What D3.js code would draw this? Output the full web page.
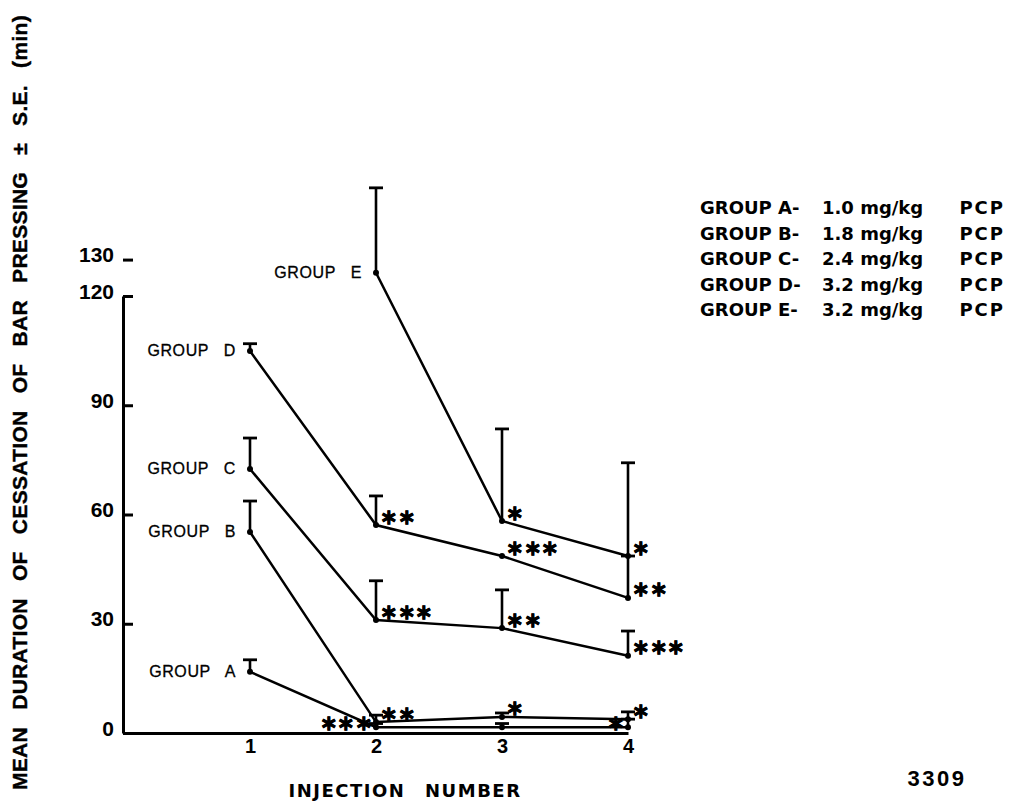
<!DOCTYPE html>
<html>
<head>
<meta charset="utf-8">
<script src="https://cdn.jsdelivr.net/npm/d3@7"></script>
<style>
  body { margin: 0; background: #fff; }
  text { font-family: 'Liberation Sans', Arial, sans-serif; fill: #000; }
</style>
</head>
<body>
<svg id="chart" width="1016" height="803"></svg>
<script>
// values (min), S.E. as distance above the mean
const injections = [1, 2, 3, 4]
const groups = ['A', 'B', 'C', 'D', 'E']
const doses = ['1.0', '1.8', '2.4', '3.2', '3.2']
const yTicks = [0, 30, 60, 90, 120, 130]

const meanA = [16.8, 1.6, 1.6, 1.6]
const meanB = [55.2, 3.0, 4.4, 3.8]
const meanC = [72.5, 31.0, 28.8, 21.2]
const meanD = [104.9, 57.1, 48.6, 37.1]
const meanE = [null, 126.4, 58.2, 48.6]

const seA = [3.3, 1.0, 1.0, 2.2]
const seB = [8.5, 1.9, 1.1, 2.0]
const seC = [8.5, 10.8, 10.5, 6.8]
const seD = [2.0, 8.0, 0, 11.5]
const seE = [null, 23.3, 25.3, 25.6]

const sigA = ['', '***', '', '*']
const sigB = ['', '**', '*', '*']
const sigC = ['', '***', '**', '***']
const sigD = ['', '**', '***', '**']
const sigE = ['', '', '*', '*']

const means = [meanA, meanB, meanC, meanD, meanE]
const ses = [seA, seB, seC, seD, seE]
const sigs = [sigA, sigB, sigC, sigD, sigE]

const svg = d3.select('#chart')

const x = d3.scaleLinear().domain([0, 4]).range([124, 628])
const y = d3.scaleLinear().domain([0, 120]).range([733, 296])

// y axis, ticks pointing into the plot
const yAxis = svg.append('g')
  .attr('transform', 'translate(123,0)')
  .call(d3.axisLeft(y).tickValues(yTicks).tickSizeInner(-10).tickSizeOuter(0).tickPadding(9))
yAxis.select('.domain').attr('stroke-width', 3)
yAxis.selectAll('.tick line').attr('stroke-width', 3)
yAxis.selectAll('.tick text')
  .attr('font-size', 21)
  .attr('font-weight', 'bold')
  .attr('dy', '0.1em')

// x axis, labels only
const xAxis = svg.append('g')
  .attr('transform', 'translate(0,733)')
  .call(d3.axisBottom(x).tickValues(injections).tickSize(0).tickPadding(6).tickFormat(d3.format('d')))
xAxis.select('.domain').attr('stroke-width', 3)
xAxis.selectAll('.tick text')
  .attr('font-size', 20)
  .attr('font-weight', 'bold')

// build one series per group
const series = groups.map((g, i) => ({
  key: g,
  points: injections
    .map((inj, j) => ({ inj: inj, mean: means[i][j], se: ses[i][j], sig: sigs[i][j] }))
    .filter(p => p.mean != null)
}))

const line = d3.line().x(d => x(d.inj)).y(d => y(d.mean))

const plot = svg.append('g')

series.forEach(s => {
  const grp = plot.append('g').attr('class', 'group-' + s.key)

  grp.append('path')
    .datum(s.points)
    .attr('d', line)
    .attr('fill', 'none')
    .attr('stroke', '#000')
    .attr('stroke-width', 2.5)

  const bars = s.points.filter(p => p.se > 0)
  grp.selectAll('.err')
    .data(bars)
    .enter()
    .append('line')
    .attr('class', 'err')
    .attr('x1', d => x(d.inj))
    .attr('x2', d => x(d.inj))
    .attr('y1', d => y(d.mean))
    .attr('y2', d => y(d.mean + d.se))
    .attr('stroke', '#000')
    .attr('stroke-width', 2.6)
  grp.selectAll('.cap')
    .data(bars)
    .enter()
    .append('line')
    .attr('class', 'cap')
    .attr('x1', d => x(d.inj) - 7)
    .attr('x2', d => x(d.inj) + 7)
    .attr('y1', d => y(d.mean + d.se))
    .attr('y2', d => y(d.mean + d.se))
    .attr('stroke', '#000')
    .attr('stroke-width', 2.8)

  grp.selectAll('.dot')
    .data(s.points)
    .enter()
    .append('circle')
    .attr('cx', d => x(d.inj))
    .attr('cy', d => y(d.mean))
    .attr('r', 3)
    .attr('fill', '#000')

  // significance stars; group A's sit on the left of the point
  const left = s.key === 'A'
  grp.selectAll('.sig')
    .data(s.points.filter(p => p.sig))
    .enter()
    .append('text')
    .attr('class', 'sig')
    .attr('x', d => x(d.inj) + (left ? -4 : 4))
    .attr('y', d => y(d.mean) - (left ? 5 : 9))
    .attr('text-anchor', left ? 'end' : 'start')
    .attr('dominant-baseline', 'central')
    .attr('font-size', 21)
    .attr('font-weight', 'bold')
    .attr('letter-spacing', -0.5)
    .attr('stroke', '#000')
    .attr('stroke-width', 0.6)
    .text(d => d.sig.replace(/\*/g, '\u2217'))

  // group name beside the first point
  const first = s.points[0]
  plot.append('text')
    .attr('x', x(first.inj) - 14)
    .attr('y', y(first.mean))
    .attr('text-anchor', 'end')
    .attr('dominant-baseline', 'central')
    .attr('font-size', 16)
    .attr('letter-spacing', 0.6)
    .attr('word-spacing', 10)
    .attr('stroke', '#000')
    .attr('stroke-width', 0.3)
    .style('white-space', 'pre')
    .text('GROUP ' + s.key)
})

// legend
const legend = svg.append('g')
groups.forEach((g, i) => {
  const row = legend.append('text')
    .attr('x', 700)
    .attr('y', 207 + i * 25.5)
    .attr('dominant-baseline', 'central')
    .style('font-family', 'DejaVu Sans')
    .attr('font-size', 18)
    .attr('font-weight', 'bold')
  row.append('tspan').text('GROUP ' + g + '-')
  row.append('tspan').attr('x', 822).text(doses[i] + ' mg/kg')
  row.append('tspan').attr('x', 1005).attr('text-anchor', 'end').attr('letter-spacing', 2).text('PCP')
})

// axis titles
svg.append('text')
  .attr('x', 405)
  .attr('y', 790)
  .attr('text-anchor', 'middle')
  .attr('dominant-baseline', 'central')
  .style('font-family', 'DejaVu Sans')
  .attr('font-size', 18)
  .attr('font-weight', 'bold')
  .attr('letter-spacing', 1.5)
  .attr('word-spacing', 12)
  .text('INJECTION NUMBER')

svg.append('text')
  .attr('transform', 'translate(19,790) rotate(-90)')
  .attr('text-anchor', 'start')
  .attr('dominant-baseline', 'central')
  .attr('font-size', 21)
  .attr('font-weight', 'bold')
  .attr('letter-spacing', 0.3)
  .attr('word-spacing', 11)
  .attr('stroke', '#000')
  .attr('stroke-width', 0.4)
  .text('MEAN DURATION OF CESSATION OF BAR PRESSING \u00b1 S.E. (min)')

svg.append('text')
  .attr('x', 937)
  .attr('y', 778)
  .attr('text-anchor', 'middle')
  .attr('dominant-baseline', 'central')
  .attr('font-size', 22)
  .attr('font-weight', 'bold')
  .attr('letter-spacing', 2.5)
  .text('3309')
</script>
</body>
</html>
